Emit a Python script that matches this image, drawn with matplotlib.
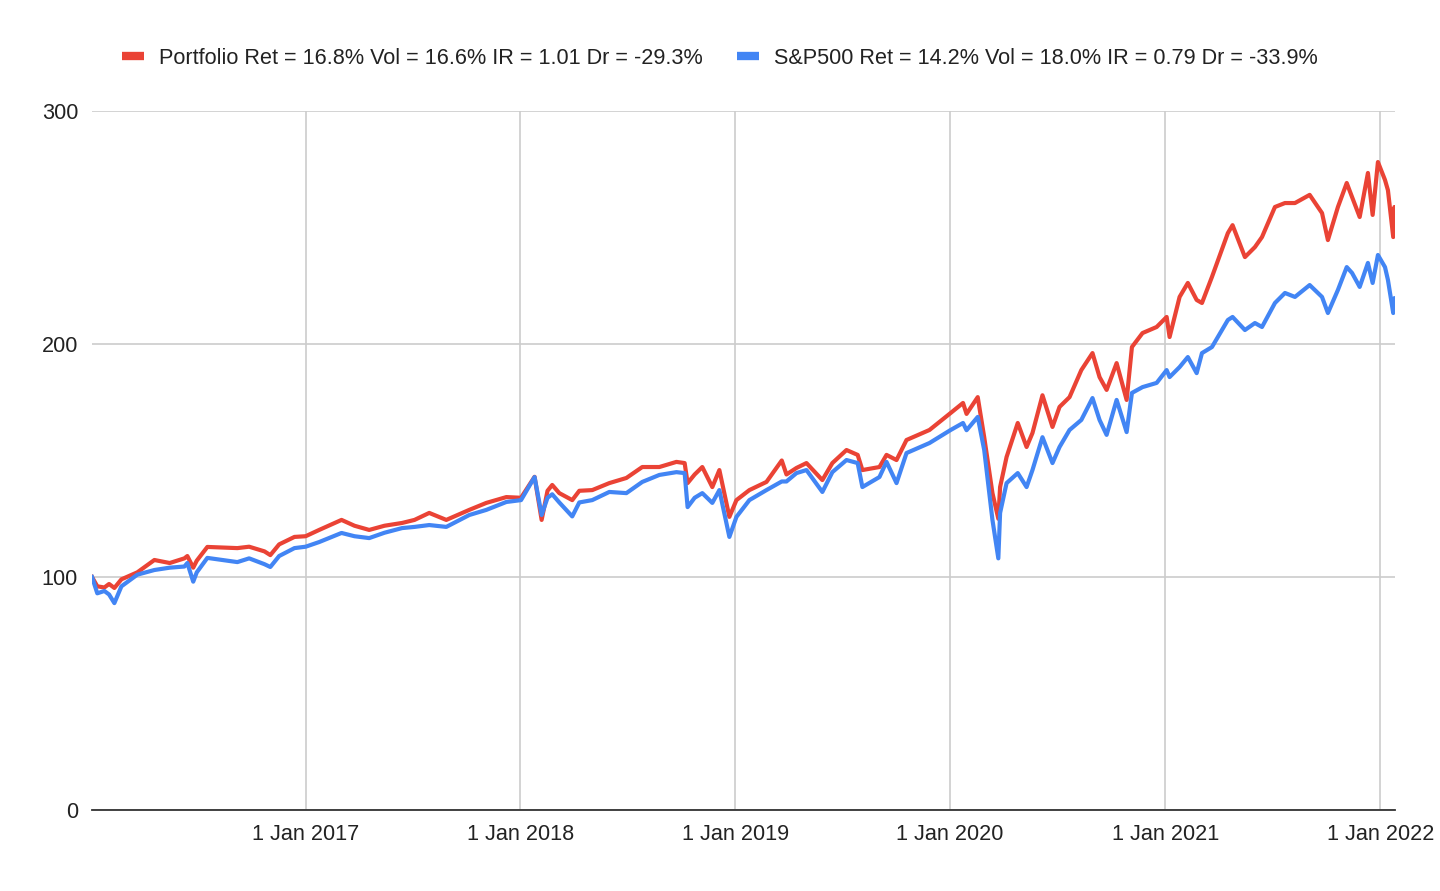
import matplotlib
matplotlib.use("Agg")
import matplotlib.pyplot as plt
import pandas as pd

dates = ["2016-01-04","2016-01-13","2016-01-25","2016-02-02","2016-02-11","2016-02-23",
         "2016-03-21","2016-04-19","2016-05-15","2016-06-09","2016-06-14","2016-06-24",
         "2016-06-30","2016-07-18","2016-09-07","2016-09-27","2016-10-23","2016-11-02",
         "2016-11-17","2016-12-13","2017-01-01","2017-01-24","2017-03-03","2017-03-25",
         "2017-04-19","2017-05-15","2017-06-14","2017-07-05","2017-07-30","2017-08-28",
         "2017-10-06","2017-11-04","2017-12-08","2018-01-02","2018-01-25","2018-02-06",
         "2018-02-16","2018-02-24","2018-03-08","2018-03-30","2018-04-11","2018-05-03",
         "2018-06-01","2018-06-30","2018-07-27","2018-08-25","2018-09-23","2018-10-07",
         "2018-10-12","2018-10-24","2018-11-06","2018-11-23","2018-12-05","2018-12-22",
         "2019-01-03","2019-01-25","2019-02-23","2019-03-21","2019-03-29","2019-04-15",
         "2019-05-02","2019-05-29","2019-06-15","2019-07-09","2019-07-28","2019-08-05",
         "2019-09-03","2019-09-15","2019-10-02","2019-10-19","2019-11-27","2020-01-02",
         "2020-01-23","2020-01-29","2020-02-17","2020-02-28","2020-03-13","2020-03-23",
         "2020-03-26","2020-04-06","2020-04-25","2020-05-10","2020-05-20","2020-06-06",
         "2020-06-23","2020-07-05","2020-07-22","2020-08-11","2020-08-30","2020-09-11",
         "2020-09-23","2020-10-10","2020-10-27","2020-11-05","2020-11-23","2020-12-17",
         "2021-01-03","2021-01-08","2021-01-25","2021-02-08","2021-02-23","2021-03-04",
         "2021-03-21","2021-04-17","2021-04-25","2021-05-16","2021-06-02","2021-06-14",
         "2021-07-06","2021-07-23","2021-08-09","2021-09-03","2021-09-24","2021-10-04",
         "2021-10-21","2021-11-05","2021-11-14","2021-11-27","2021-12-11","2021-12-19",
         "2021-12-28","2022-01-09","2022-01-14","2022-01-23","2022-01-25","2022-01-26"]

portfolio = [100, 96, 95.5, 97, 95.3, 99,
             102, 107.3, 106, 108, 109, 104,
             107, 112.9, 112.4, 113, 111, 109.4,
             114, 117.2, 117.5, 120.2, 124.5, 122,
             120.2, 122, 123.2, 124.5, 127.5, 124.5,
             128.8, 131.8, 134.3, 134, 143, 124.5,
             137, 139.5, 136, 133, 137, 137.3,
             140.3, 142.5, 147.2, 147.2, 149.4, 148.9,
             140.3, 144, 147.2, 138.6, 145.9, 125.8,
             133, 137.3, 140.8, 150, 144, 146.8,
             148.9, 141.6, 148.9, 154.5, 152.4, 145.9,
             147.2, 152.4, 150.2, 158.8, 163.1, 170.4,
             174.7, 170, 177.2, 160, 136, 125,
             138.6, 151.5, 166.1, 155.8, 161.8, 178,
             164.4, 173, 177.2, 188.8, 196.1, 185.8,
             180.3, 191.8, 176, 198.7, 204.7, 207.3,
             211.6, 203, 220.2, 226.2, 218.9, 217.6,
             228.8, 247.6, 251, 237.3, 241.6, 245.9,
             258.8, 260.5, 260.5, 264, 256.2, 244.6,
             258.8, 269.1, 263.1, 254.5, 273.4, 255.4,
             278.1, 270.4, 266, 245.9, 258.8, 250]

sp500 = [100, 93, 94, 92.5, 88.8, 96,
         101, 103, 104, 104.5, 106, 98,
         102, 108.2, 106.4, 108, 105.5, 104.3,
         109, 112.4, 113, 115, 118.9, 117.5,
         116.7, 119, 121, 121.5, 122.3, 121.5,
         126.6, 128.8, 132.2, 133, 142.9, 126.6,
         134, 135.5, 132, 126, 132, 133,
         136.5, 136, 140.8, 143.8, 145, 144.6,
         130, 134, 136, 131.8, 137.3, 117.2,
         125.8, 133, 137.3, 141, 141, 144.6,
         145.9, 136.5, 145, 150.2, 148.9, 138.6,
         142.9, 149.4, 140.3, 153.2, 157.5, 163.1,
         166.1, 163, 168.7, 154.5, 124.5, 108,
         127.5, 140.3, 144.6, 138.6, 145.9, 160,
         148.9, 155.8, 163.1, 167.4, 176.8, 167.4,
         161, 176, 162.2, 179, 181.5, 183.3,
         188.8, 185.8, 190.1, 194.4, 187.5, 196.1,
         198.7, 210.3, 211.6, 206, 209, 207.3,
         217.6, 221.9, 220.2, 225.3, 220.2, 213.3,
         223.2, 233, 230.5, 224.5, 234.8, 226.2,
         238.2, 233, 227.5, 213.3, 219.7, 216]

labels = ["Portfolio Ret = 16.8% Vol = 16.6% IR = 1.01 Dr = -29.3%",
          "S&P500 Ret = 14.2% Vol = 18.0% IR = 0.79 Dr = -33.9%"]
y_ticks = [0, 100, 200, 300]
x_ticks = ["2017-01-01", "2018-01-01", "2019-01-01", "2020-01-01", "2021-01-01", "2022-01-01"]
x_ticklabels = ["1 Jan 2017", "1 Jan 2018", "1 Jan 2019", "1 Jan 2020", "1 Jan 2021", "1 Jan 2022"]

plt.rcParams['font.family'] = ['Liberation Sans', 'DejaVu Sans']

d = pd.to_datetime(dates)
fig = plt.figure(figsize=(14.4, 8.91), dpi=100)
ax = fig.add_axes([92/1440, 1-810/891, (1395-92)/1440, (810-111)/891])

red = "#EA4335"
blue = "#4285F4"
ax.plot(d, portfolio, color=red, lw=3, label=labels[0], solid_joinstyle="round")
ax.plot(d, sp500, color=blue, lw=3, label=labels[1], solid_joinstyle="round")

ax.set_ylim(0, 300)
ax.set_xlim(d[0], d[-1])
ax.set_yticks(y_ticks)
ax.set_yticklabels([str(v) for v in y_ticks])
ax.set_xticks(pd.to_datetime(x_ticks))
ax.set_xticklabels(x_ticklabels)
ax.tick_params(axis="both", length=0, labelsize=15.6, labelcolor="#222222")
ax.tick_params(axis="y", pad=10)
ax.tick_params(axis="x", pad=10)
ax.grid(True, color="#cccccc", lw=1.2)
ax.set_axisbelow(True)
for s in ["top", "right", "left"]:
    ax.spines[s].set_visible(False)
ax.spines["bottom"].set_color("#333333")
ax.spines["bottom"].set_linewidth(1.3)

leg = fig.legend(loc="center", bbox_to_anchor=(0.5, 1-58/891), ncol=2, frameon=False,
                 fontsize=15.6, handlelength=1.0, handletextpad=0.7, columnspacing=1.6)
for h in leg.get_lines():
    h.set_linewidth(6)
    h.set_solid_capstyle("butt")
for t in leg.get_texts():
    t.set_color("#222222")

fig.savefig("out.png", dpi=100)
